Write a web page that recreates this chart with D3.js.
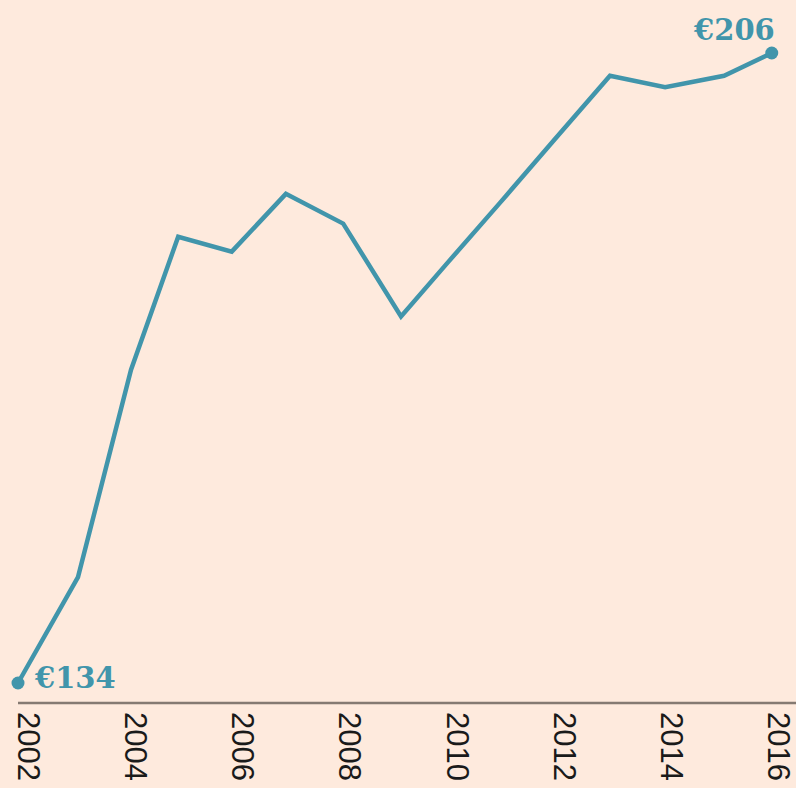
<!DOCTYPE html>
<html lang="en">
<head>
  <meta charset="UTF-8">
  <script src="https://d3js.org/d3.v7.min.js"></script>
  <style>
  body {
    margin:0;
    background-color:#feeadd;
  }
  svg {
    display:block;
  }
  .tick-label {
    font-family: "Liberation Sans", Arial, sans-serif;
    font-size: 31px;
    fill: #1a1a1a;
  }
  .end-label {
    font-family: "DejaVu Serif", Georgia, serif;
    font-size: 29px;
    font-weight: bold;
    fill: #4195ab;
  }
  </style>
</head>
<body>
  <svg id="chart" width="796" height="788"></svg>

  <script>
  // positions along the time axis (points are not exactly on the year marks)
  const years = [2002, 2003.12, 2004.11, 2004.99, 2005.99, 2007.0, 2008.07, 2009.15, 2010, 2011, 2012, 2013.05, 2014.08, 2015.18, 2016.07];
  // values in euro
  const values = [134, 146.1, 169.8, 185, 183.3, 189.9, 186.5, 175.9, 181.9, 188.9, 196.0, 203.4, 202.1, 203.4, 206];
  const tickYears = [2002, 2004, 2006, 2008, 2010, 2012, 2014, 2016];

  let svg = d3.select("#chart");
  let lineColor = "#4195ab";

  let x = d3.scaleLinear().domain([2002, 2016]).range([18, 768]);
  let y = d3.scaleLinear().domain([134, 206]).range([683, 53]);

  let data = years.map((yr, i) => ({year: yr, value: values[i]}));

  // axis baseline
  svg.append("line")
    .attr("x1", x(2002))
    .attr("x2", 796)
    .attr("y1", 703)
    .attr("y2", 703)
    .style("stroke", "#857a72")
    .style("stroke-width", 2.5);

  // rotated year labels
  svg.selectAll(".tick-label").data(tickYears)
    .enter()
    .append("text")
    .attr("class", "tick-label")
    .attr("transform", d => "translate(" + x(d) + ",712) rotate(90)")
    .text(d => d);

  let line = d3.line()
    .x(d => x(d.year))
    .y(d => y(d.value));

  svg.append("path")
    .datum(data)
    .attr("d", line)
    .style("fill", "none")
    .style("stroke", lineColor)
    .style("stroke-width", 4.5)
    .style("stroke-linejoin", "miter");

  let first = data[0];
  let last = data[data.length - 1];

  svg.selectAll("circle").data([first, last])
    .enter()
    .append("circle")
    .attr("cx", d => x(d.year))
    .attr("cy", d => y(d.value))
    .attr("r", 6.5)
    .style("fill", lineColor);

  svg.append("text")
    .attr("class", "end-label")
    .attr("x", x(first.year) + 17)
    .attr("y", y(first.value) + 5)
    .text("€" + first.value);

  svg.append("text")
    .attr("class", "end-label")
    .attr("text-anchor", "end")
    .attr("x", x(last.year) + 3)
    .attr("y", y(last.value) - 13)
    .text("€" + last.value);
  </script>
</body>
</html>
